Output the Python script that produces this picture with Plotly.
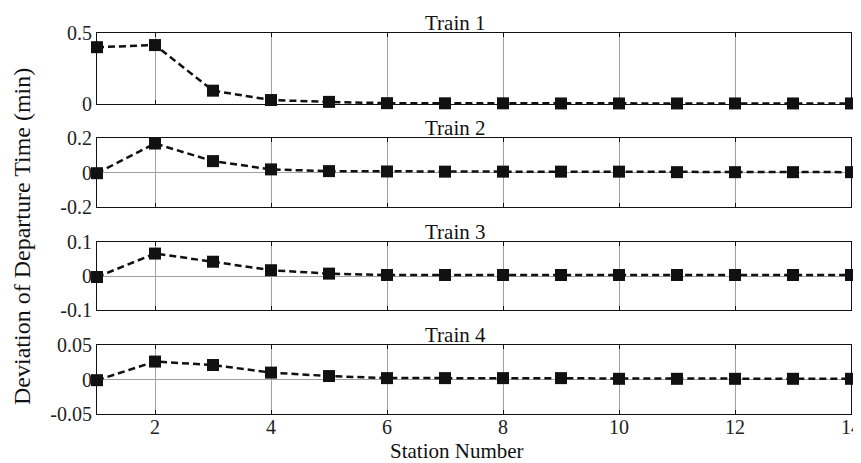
import plotly.graph_objects as go

stations = list(range(1, 15))
train1 = [0.40, 0.415, 0.094, 0.028, 0.015, 0.006, 0.005, 0.005, 0.004, 0.004, 0.004, 0.004, 0.004, 0.004]
train2 = [-0.004, 0.168, 0.066, 0.018, 0.008, 0.006, 0.005, 0.005, 0.005, 0.005, 0.002, 0.002, 0.002, 0.002]
train3 = [-0.003, 0.066, 0.042, 0.017, 0.007, 0.003, 0.003, 0.003, 0.003, 0.003, 0.003, 0.003, 0.003, 0.003]
train4 = [-0.001, 0.026, 0.021, 0.010, 0.005, 0.002, 0.002, 0.002, 0.002, 0.001, 0.001, 0.001, 0.001, 0.001]
series = [train1, train2, train3, train4]
titles = ["Train 1", "Train 2", "Train 3", "Train 4"]
yranges = [[0, 0.5], [-0.2, 0.2], [-0.1, 0.1], [-0.05, 0.05]]
yticks = [[0, 0.5], [-0.2, 0, 0.2], [-0.1, 0, 0.1], [-0.05, 0, 0.05]]
yticklabels = [["0", "0.5"], ["-0.2", "0", "0.2"], ["-0.1", "0", "0.1"], ["-0.05", "0", "0.05"]]
xticks = [2, 4, 6, 8, 10, 12, 14]

domains = [[0.8136, 1.0], [0.5433, 0.7244], [0.273, 0.4514], [0.0, 0.1811]]

FONT = "Liberation Serif, Times New Roman, serif"
fig = go.Figure()
layout = dict(
    width=861, height=455,
    margin=dict(l=89, r=18, t=25, b=49, autoexpand=False),
    paper_bgcolor="white", plot_bgcolor="white",
    showlegend=False,
    font=dict(family=FONT, size=20, color="#222222"),
)
annotations = []
for i in range(4):
    n = "" if i == 0 else str(i + 1)
    fig.add_trace(go.Scatter(
        x=stations, y=series[i], mode="lines+markers",
        line=dict(color="#111111", width=2.5, dash="7px,4px"),
        marker=dict(symbol="square", size=12, color="#111111"),
        xaxis="x" + n, yaxis="y" + n, cliponaxis=False,
    ))
    layout["xaxis" + n] = dict(
        domain=[0, 1], anchor="y" + n, range=[1, 14],
        tickvals=xticks, ticktext=[str(v) for v in xticks] if i == 3 else [""] * len(xticks),
        showgrid=True, gridcolor="#a0a0a0", gridwidth=1,
        showline=True, linecolor="#111111", linewidth=1, mirror="ticks",
        ticks="inside", ticklen=4, tickcolor="#111111", zeroline=False,
        ticklabelstandoff=-5,
        tickfont=dict(family=FONT, size=20, color="#222222"),
    )
    layout["yaxis" + n] = dict(
        domain=domains[i], anchor="x" + n, range=yranges[i],
        tickvals=yticks[i], ticktext=yticklabels[i],
        showgrid=True, gridcolor="#a0a0a0", gridwidth=1,
        showline=True, linecolor="#111111", linewidth=1, mirror="ticks",
        ticks="inside", ticklen=4, tickcolor="#111111", zeroline=False,
        tickfont=dict(family=FONT, size=20, color="#222222"),
    )
    annotations.append(dict(
        text=titles[i], xref="paper", yref="paper", x=0.475, y=domains[i][1],
        yanchor="middle", xanchor="center", showarrow=False, yshift=10,
        font=dict(family=FONT, size=21, color="#111111"),
    ))
annotations.append(dict(
    text="Station Number", xref="paper", yref="paper", x=0.477, y=0,
    yanchor="middle", xanchor="center", showarrow=False, yshift=-37,
    font=dict(family=FONT, size=21, color="#111111"),
))
annotations.append(dict(
    text="Deviation of Departure Time (min)", xref="paper", yref="paper",
    x=0, y=0.4646, xanchor="center", yanchor="middle", showarrow=False,
    xshift=-75, textangle=-90,
    font=dict(family=FONT, size=24, color="#111111"),
))
layout["annotations"] = annotations
fig.update_layout(**layout)
fig.write_html("out.html")
